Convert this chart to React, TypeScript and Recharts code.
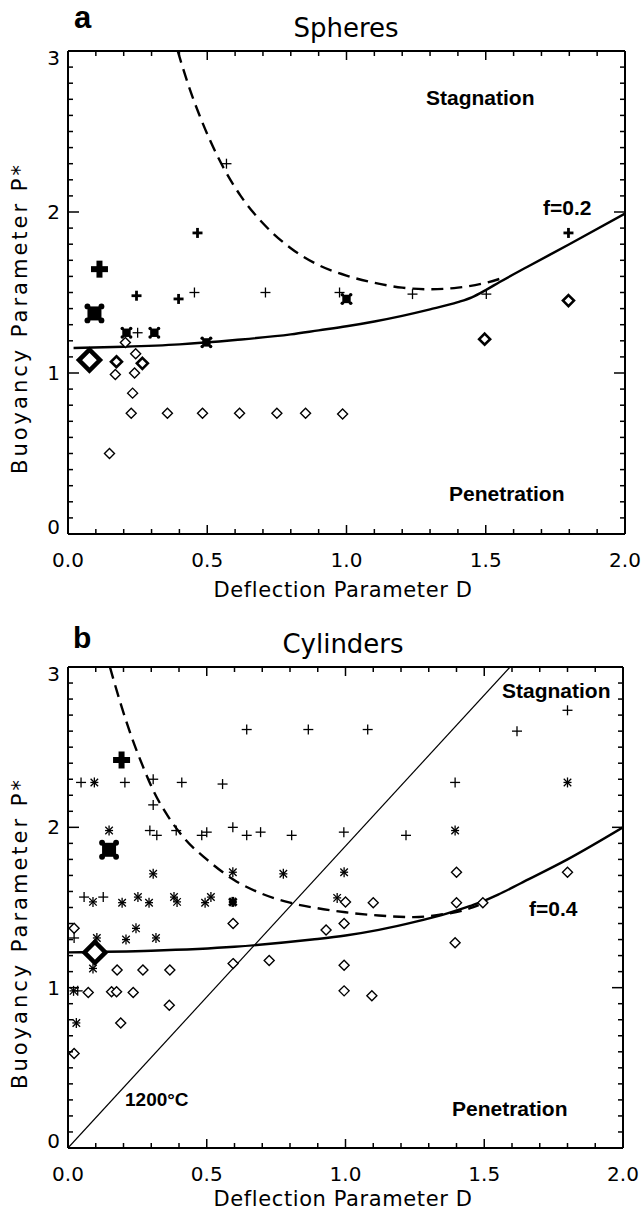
import React from "react";
import { ComposedChart, Line, Scatter, XAxis, YAxis } from "recharts";

type Pair = [number, number];
type Kind =
  | "plus"
  | "plusBold"
  | "plusBig"
  | "star"
  | "starBold"
  | "starBlock"
  | "starBig"
  | "diamond"
  | "diamondBold"
  | "diamondBig";

// axis ticks (minor every 0.1, labels on the majors)
const X_TICKS = [0, 0.1, 0.2, 0.3, 0.4, 0.5, 0.6, 0.7, 0.8, 0.9, 1.0, 1.1, 1.2, 1.3, 1.4, 1.5, 1.6, 1.7, 1.8, 1.9, 2.0];
const Y_TICKS = [
  0, 0.1, 0.2, 0.3, 0.4, 0.5, 0.6, 0.7, 0.8, 0.9, 1.0, 1.1, 1.2, 1.3, 1.4, 1.5, 1.6, 1.7, 1.8, 1.9, 2.0,
  2.1, 2.2, 2.3, 2.4, 2.5, 2.6, 2.7, 2.8, 2.9, 3.0,
];

// ---- a: spheres ----
const SPH_PLUS: Pair[] = [[0.569, 2.3], [0.454, 1.5], [0.709, 1.5], [0.25, 1.25], [0.975, 1.5], [1.237, 1.49], [1.502, 1.49]];
const SPH_PLUS_BOLD: Pair[] = [[0.465, 1.87], [0.246, 1.48], [0.397, 1.46], [1.797, 1.87]];
const SPH_PLUS_BIG: Pair[] = [[0.113, 1.645]];
const SPH_STAR_BLOCK: Pair[] = [[0.21, 1.25], [0.31, 1.25], [0.497, 1.19], [1.0, 1.46]];
const SPH_STAR_BIG: Pair[] = [[0.095, 1.37]];
const SPH_DIAMOND: Pair[] = [
  [0.206, 1.19], [0.243, 1.12], [0.17, 0.99], [0.239, 1.0], [0.232, 0.875],
  [0.227, 0.75], [0.357, 0.75], [0.483, 0.75], [0.616, 0.75], [0.75, 0.75], [0.853, 0.75], [0.986, 0.745],
  [0.149, 0.5],
];
const SPH_DIAMOND_BOLD: Pair[] = [[0.174, 1.07], [0.267, 1.06], [1.496, 1.21], [1.797, 1.45]];
const SPH_DIAMOND_BIG: Pair[] = [[0.077, 1.08]];

const SPH_F: Pair[] = [
  [0.02, 1.155], [0.2, 1.163], [0.4, 1.178], [0.6, 1.205], [0.8, 1.24], [0.9, 1.265], [1.0, 1.29],
  [1.1, 1.32], [1.2, 1.355], [1.3, 1.395], [1.4, 1.44], [1.45, 1.47], [1.5, 1.515], [1.55, 1.565],
  [1.65, 1.66], [1.8, 1.8], [2.0, 1.99],
];
const SPH_DASH: Pair[] = [
  [0.394, 3.0], [0.43, 2.8], [0.47, 2.61], [0.51, 2.445], [0.56, 2.27], [0.62, 2.1], [0.7, 1.93],
  [0.8, 1.775], [0.9, 1.67], [1.0, 1.605], [1.1, 1.56], [1.2, 1.53], [1.3, 1.52], [1.4, 1.53],
  [1.5, 1.56], [1.56, 1.59],
];

// ---- b: cylinders ----
const CYL_PLUS: Pair[] = [
  [0.047, 2.28], [0.205, 2.28], [0.307, 2.3], [0.41, 2.28], [0.557, 2.27], [0.307, 2.14],
  [0.644, 2.61], [0.866, 2.61], [1.08, 2.61], [1.618, 2.6], [1.8, 2.73], [1.395, 2.28],
  [0.295, 1.98], [0.32, 1.95], [0.39, 1.98], [0.482, 1.95], [0.5, 1.97], [0.594, 2.0], [0.644, 1.95],
  [0.694, 1.97], [0.806, 1.95], [0.994, 1.97], [1.218, 1.95],
  [0.058, 1.565], [0.127, 1.565], [0.022, 1.31], [0.035, 0.98],
];
const CYL_STAR: Pair[] = [
  [0.095, 2.28], [0.148, 1.98], [1.395, 1.98], [1.8, 2.28],
  [0.307, 1.71], [0.594, 1.72], [0.776, 1.71], [0.995, 1.72],
  [0.09, 1.535], [0.195, 1.53], [0.252, 1.565], [0.292, 1.53], [0.382, 1.565], [0.393, 1.535],
  [0.494, 1.53], [0.515, 1.565], [0.97, 1.56],
  [0.104, 1.31], [0.209, 1.3], [0.245, 1.37], [0.317, 1.31], [0.09, 1.12], [0.02, 0.98], [0.03, 0.78],
];
const CYL_STAR_BOLD: Pair[] = [[0.594, 1.535]];
const CYL_STAR_BIG: Pair[] = [[0.148, 1.86]];
const CYL_PLUS_BIG: Pair[] = [[0.193, 2.42]];
const CYL_DIAMOND: Pair[] = [
  [0.022, 1.37], [0.595, 1.4], [0.177, 1.11], [0.27, 1.11], [0.367, 1.11], [0.595, 1.15], [0.725, 1.17],
  [0.073, 0.97], [0.157, 0.975], [0.175, 0.975], [0.235, 0.97], [0.365, 0.89], [0.19, 0.78], [0.022, 0.59],
  [0.93, 1.36], [0.995, 1.4], [1.395, 1.28], [0.995, 1.14], [0.995, 0.98], [1.095, 0.95],
  [1.0, 1.535], [1.1, 1.53], [1.4, 1.53], [1.495, 1.53], [1.4, 1.72], [1.8, 1.72],
];
const CYL_DIAMOND_BIG: Pair[] = [[0.097, 1.22]];

const CYL_F: Pair[] = [
  [0, 1.22], [0.3, 1.23], [0.6, 1.255], [0.88, 1.3], [1.0, 1.325], [1.12, 1.36], [1.25, 1.41],
  [1.37, 1.465], [1.45, 1.51], [1.49, 1.535], [1.55, 1.58], [1.63, 1.65], [1.8, 1.8], [2.0, 2.0],
];
const CYL_DASH: Pair[] = [
  [0.151, 3.0], [0.19, 2.77], [0.23, 2.56], [0.27, 2.38], [0.31, 2.22], [0.36, 2.07], [0.42, 1.93],
  [0.5, 1.8], [0.6, 1.67], [0.7, 1.585], [0.8, 1.53], [0.9, 1.495], [1.0, 1.47], [1.12, 1.45],
  [1.245, 1.44], [1.34, 1.455], [1.42, 1.48], [1.48, 1.515],
];
const CYL_ISOTHERM: Pair[] = [[0, 0], [1.593, 3.0]];

const SANS = "'DejaVu Sans', sans-serif";
const BOLD = "'Liberation Sans', Arial, sans-serif";
const W = 642;
const H = 606;
const AXIS = { stroke: "#000", strokeWidth: 2 };

const toPts = (arr: Pair[]) => arr.map(([x, y]) => ({ x, y }));
const isMajorX = (v: number) => Math.abs(v * 2 - Math.round(v * 2)) < 1e-6;
const isMajorY = (v: number) => Math.abs(v - Math.round(v)) < 1e-6;

function BottomTick(p: any) {
  const v = p.payload.value as number;
  const major = isMajorX(v);
  return (
    <g>
      <line x1={p.x} x2={p.x} y1={p.y} y2={p.y - (major ? 9 : 5)} stroke="#000" strokeWidth={1.5} />
      {major && (
        <text x={p.x} y={p.y + 33} textAnchor="middle" fontFamily={SANS} fontSize={20} fill="#000">
          {v.toFixed(1)}
        </text>
      )}
    </g>
  );
}

function TopTick(p: any) {
  const major = isMajorX(p.payload.value);
  return <line x1={p.x} x2={p.x} y1={p.y} y2={p.y + (major ? 9 : 5)} stroke="#000" strokeWidth={1.5} />;
}

function LeftTick(p: any) {
  const v = p.payload.value as number;
  const major = isMajorY(v);
  // end labels are nudged inside the frame
  const shift = v < 0.5 ? -7 : v > 2.5 ? 7 : 0;
  return (
    <g>
      <line x1={p.x} x2={p.x + (major ? 11 : 5)} y1={p.y} y2={p.y} stroke="#000" strokeWidth={1.5} />
      {major && (
        <text x={p.x - 8} y={p.y + 7 + shift} textAnchor="end" fontFamily={SANS} fontSize={20} fill="#000">
          {Math.round(v)}
        </text>
      )}
    </g>
  );
}

function RightTick(p: any) {
  const major = isMajorY(p.payload.value);
  return <line x1={p.x} x2={p.x - (major ? 11 : 5)} y1={p.y} y2={p.y} stroke="#000" strokeWidth={1.5} />;
}

function Marker({ cx, cy, kind }: { cx?: number; cy?: number; kind: Kind }) {
  if (cx == null || cy == null) return null;
  const cross = (r: number, w: number) => (
    <g stroke="#000" strokeWidth={w}>
      <line x1={cx - r} y1={cy} x2={cx + r} y2={cy} />
      <line x1={cx} y1={cy - r} x2={cx} y2={cy + r} />
    </g>
  );
  const star = (r: number, w: number) => {
    const d = r * 0.75;
    return (
      <g stroke="#000" strokeWidth={w}>
        <line x1={cx} y1={cy - r} x2={cx} y2={cy + r} />
        <line x1={cx - r * 0.8} y1={cy} x2={cx + r * 0.8} y2={cy} />
        <line x1={cx - d} y1={cy - d} x2={cx + d} y2={cy + d} />
        <line x1={cx - d} y1={cy + d} x2={cx + d} y2={cy - d} />
      </g>
    );
  };
  const block = (s: number) => (
    <g fill="#000">
      <rect x={cx - s} y={cy - s} width={2 * s} height={2 * s} />
      <circle cx={cx - s} cy={cy - s} r={s * 0.42} />
      <circle cx={cx + s} cy={cy - s} r={s * 0.42} />
      <circle cx={cx - s} cy={cy + s} r={s * 0.42} />
      <circle cx={cx + s} cy={cy + s} r={s * 0.42} />
    </g>
  );
  const diamond = (r: number, w: number) => (
    <polygon
      points={`${cx},${cy - r} ${cx + r},${cy} ${cx},${cy + r} ${cx - r},${cy}`}
      fill="#fff"
      stroke="#000"
      strokeWidth={w}
    />
  );
  switch (kind) {
    case "plus":
      return cross(5, 1.3);
    case "plusBold":
      return cross(5, 2.8);
    case "plusBig":
      return cross(8.5, 6);
    case "star":
      return star(5, 1.3);
    case "starBold":
      return star(5, 2.8);
    case "starBlock":
      return block(4.2);
    case "starBig":
      return block(7);
    case "diamond":
      return diamond(5, 1.4);
    case "diamondBold":
      return diamond(5.5, 2.6);
    case "diamondBig":
      return diamond(10.5, 4.5);
  }
  return null;
}

type Curve = { data: Pair[]; width: number; dash?: string };
type MarkSet = { data: Pair[]; kind: Kind };

// axes are 1px thick boxes, so the margins are one pixel short of the frame
function Panel({
  margin,
  curves,
  marks,
  children,
}: {
  margin: { top: number; right: number; bottom: number; left: number };
  curves: Curve[];
  marks: MarkSet[];
  children: React.ReactNode;
}) {
  return (
    <div style={{ position: "relative", width: W, height: H }}>
      <ComposedChart width={W} height={H} margin={margin}>
        <XAxis
          xAxisId="bottom"
          type="number"
          dataKey="x"
          domain={[0, 2]}
          allowDataOverflow
          ticks={X_TICKS}
          interval={0}
          height={1}
          tickSize={0}
          tickMargin={0}
          tickLine={false}
          axisLine={AXIS}
          tick={(p: any) => <BottomTick {...p} />}
        />
        <XAxis
          xAxisId="top"
          orientation="top"
          type="number"
          dataKey="x"
          domain={[0, 2]}
          allowDataOverflow
          ticks={X_TICKS}
          interval={0}
          height={1}
          tickSize={0}
          tickMargin={0}
          tickLine={false}
          axisLine={AXIS}
          tick={(p: any) => <TopTick {...p} />}
        />
        <YAxis
          yAxisId="left"
          type="number"
          domain={[0, 3]}
          allowDataOverflow
          ticks={Y_TICKS}
          interval={0}
          width={1}
          tickSize={0}
          tickMargin={0}
          tickLine={false}
          axisLine={AXIS}
          tick={(p: any) => <LeftTick {...p} />}
        />
        <YAxis
          yAxisId="right"
          orientation="right"
          type="number"
          domain={[0, 3]}
          allowDataOverflow
          ticks={Y_TICKS}
          interval={0}
          width={1}
          tickSize={0}
          tickMargin={0}
          tickLine={false}
          axisLine={AXIS}
          tick={(p: any) => <RightTick {...p} />}
        />
        {curves.map((c, i) => (
          <Line
            key={`curve-${i}`}
            xAxisId="bottom"
            yAxisId="left"
            data={toPts(c.data)}
            dataKey="y"
            type="monotone"
            stroke="#000"
            strokeWidth={c.width}
            strokeDasharray={c.dash}
            dot={false}
            activeDot={false}
            isAnimationActive={false}
          />
        ))}
        {marks.map((m, i) => (
          <Scatter
            key={`marks-${i}`}
            xAxisId="bottom"
            yAxisId="left"
            data={toPts(m.data)}
            dataKey="y"
            shape={(p: any) => <Marker cx={p.cx} cy={p.cy} kind={m.kind} />}
            isAnimationActive={false}
          />
        ))}
      </ComposedChart>
      <svg width={W} height={H} style={{ position: "absolute", left: 0, top: 0, pointerEvents: "none" }}>
        {children}
      </svg>
    </div>
  );
}

function YLabel({ y }: { y: number }) {
  return (
    <text
      x={27}
      y={y}
      transform={`rotate(-90 27 ${y})`}
      textAnchor="middle"
      fontFamily={SANS}
      fontSize={21}
      letterSpacing={3}
      fill="#000"
    >
      Buoyancy Parameter P*
    </text>
  );
}

function XLabel({ y }: { y: number }) {
  return (
    <text x={343} y={y} textAnchor="middle" fontFamily={SANS} fontSize={21} letterSpacing={0.6} fill="#000">
      Deflection Parameter D
    </text>
  );
}

function Note({ x, y, size = 21, children }: { x: number; y: number; size?: number; children: React.ReactNode }) {
  return (
    <text x={x} y={y} fontFamily={BOLD} fontWeight="bold" fontSize={size} fill="#000">
      {children}
    </text>
  );
}

export default function App() {
  return (
    <div style={{ position: "absolute", left: 0, top: 0, width: W, height: 2 * H, background: "#fff" }}>
      <Panel
        margin={{ top: 50, right: 16, bottom: 71, left: 67 }}
        curves={[
          { data: SPH_F, width: 2.4 },
          { data: SPH_DASH, width: 2.4, dash: "12 7" },
        ]}
        marks={[
          { data: SPH_DIAMOND, kind: "diamond" },
          { data: SPH_DIAMOND_BOLD, kind: "diamondBold" },
          { data: SPH_DIAMOND_BIG, kind: "diamondBig" },
          { data: SPH_STAR_BLOCK, kind: "starBlock" },
          { data: SPH_STAR_BIG, kind: "starBig" },
          { data: SPH_PLUS, kind: "plus" },
          { data: SPH_PLUS_BOLD, kind: "plusBold" },
          { data: SPH_PLUS_BIG, kind: "plusBig" },
        ]}
      >
        <Note x={74} y={28} size={31}>a</Note>
        <text x={346} y={37} textAnchor="middle" fontFamily={SANS} fontSize={26} fill="#000">
          Spheres
        </text>
        <Note x={426} y={105}>Stagnation</Note>
        <Note x={543} y={215}>f=0.2</Note>
        <Note x={449} y={501}>Penetration</Note>
        <XLabel y={597} />
        <YLabel y={318} />
      </Panel>
      <Panel
        margin={{ top: 60, right: 18, bottom: 63, left: 67 }}
        curves={[
          { data: CYL_ISOTHERM, width: 1.2 },
          { data: CYL_F, width: 2.4 },
          { data: CYL_DASH, width: 2.4, dash: "12 7" },
        ]}
        marks={[
          { data: CYL_DIAMOND, kind: "diamond" },
          { data: CYL_DIAMOND_BIG, kind: "diamondBig" },
          { data: CYL_STAR, kind: "star" },
          { data: CYL_STAR_BOLD, kind: "starBold" },
          { data: CYL_STAR_BIG, kind: "starBig" },
          { data: CYL_PLUS, kind: "plus" },
          { data: CYL_PLUS_BIG, kind: "plusBig" },
        ]}
      >
        <Note x={73} y={42} size={30}>b</Note>
        <text x={343} y={47} textAnchor="middle" fontFamily={SANS} fontSize={26} fill="#000">
          Cylinders
        </text>
        <Note x={502} y={92}>Stagnation</Note>
        <Note x={529} y={310}>f=0.4</Note>
        <Note x={452} y={510}>Penetration</Note>
        <Note x={125} y={500} size={19}>1200°C</Note>
        <XLabel y={600} />
        <YLabel y={327} />
      </Panel>
    </div>
  );
}
